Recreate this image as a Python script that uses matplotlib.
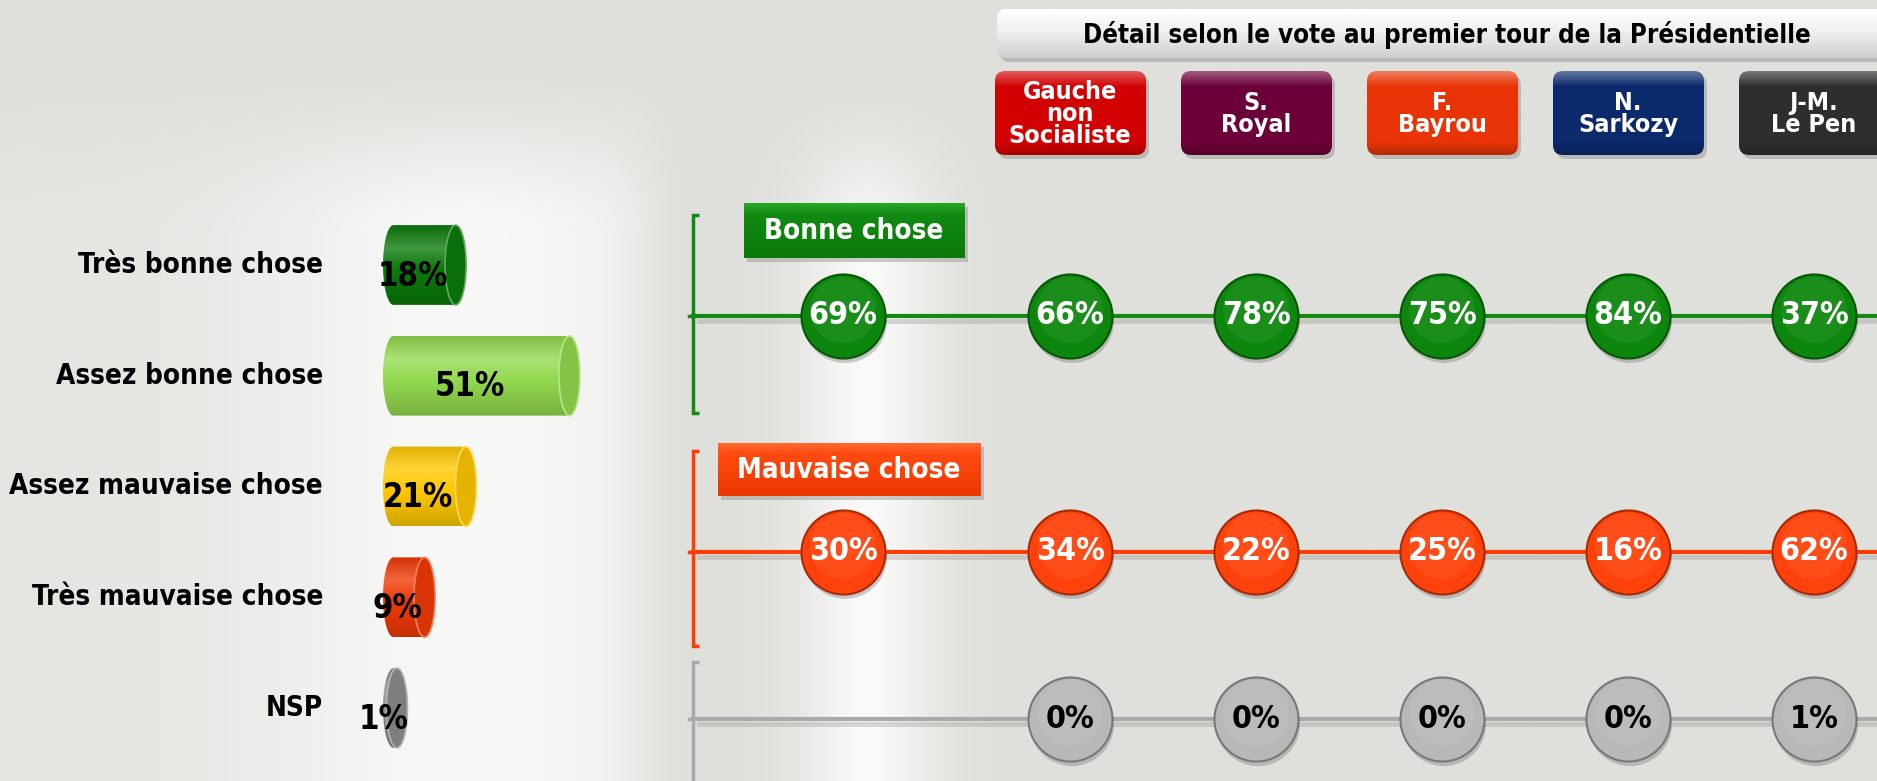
import matplotlib
matplotlib.use("Agg")
import matplotlib.pyplot as plt
from matplotlib import patches, transforms, colors
import numpy as np

# ---- data ----
answers = ["Très bonne chose", "Assez bonne chose", "Assez mauvaise chose",
           "Très mauvaise chose", "NSP"]
answer_values = [18, 51, 21, 9, 1]
answer_colors = ["#0b7a0b", "#93d94e", "#ffc800", "#f03a06", "#8c8c8c"]

title = "Détail selon le vote au premier tour de la Présidentielle"
candidates = ["Gauche\nnon\nSocialiste", "S.\nRoyal", "F.\nBayrou", "N.\nSarkozy", "J-M.\nLe Pen"]
candidate_colors = ["#d20202", "#6c0038", "#e83406", "#0b2a6c", "#2e2e2e"]

group_labels = ["Bonne chose", "Mauvaise chose"]
bonne_total = 69
bonne_detail = [66, 78, 75, 84, 37]
mauvaise_total = 30
mauvaise_detail = [34, 22, 25, 16, 62]
nsp_detail = [0, 0, 0, 0, 1]

plt.rcParams["font.family"] = ["DejaVu Sans Condensed", "DejaVu Sans"]
plt.rcParams["font.stretch"] = "condensed"
plt.rcParams["font.weight"] = "bold"

W, H = 1877, 781
fig = plt.figure(figsize=(W / 100, H / 100), dpi=100)


def smooth_step(v, a, b):
    t = np.clip((v - a) / (b - a), 0, 1)
    return t * t * (3 - 2 * t)


def lighter(c, f):
    c = np.array(colors.to_rgb(c))
    return tuple(c + (1 - c) * f)


def darker(c, f):
    c = np.array(colors.to_rgb(c))
    return tuple(c * (1 - f))


# ---- background ----
ax_bg = fig.add_axes([0, 0, 1, 1], zorder=0)
gx = np.arange(0, W, 2)[None, :]
gy = np.arange(0, H, 2)[:, None]
base = np.array([223, 224, 219]) / 255.0
left_glow = 0.62 * np.exp(-((gx - 470) / 210.0) ** 2) * (1 - smooth_step(gx, 600, 690)) \
    + 0.18 * (1 - smooth_step(gx, 620, 690))
left_glow = left_glow * smooth_step(gy, 60, 240)
band = np.exp(-((gx - 868) / 66.0) ** 2) * 0.82 * smooth_step(gy, 80, 260)
glow = np.clip(left_glow + band, 0, 1)
img = base[None, None, :] + (1 - base[None, None, :]) * glow[:, :, None]
ax_bg.imshow(img, extent=(0, W, H, 0), aspect="auto", interpolation="bilinear")
ax_bg.set_xlim(0, W)
ax_bg.set_ylim(H, 0)
ax_bg.axis("off")

# ---- pixel overlay for decorations ----
ax_px = fig.add_axes([0, 0, 1, 1], zorder=1)
ax_px.patch.set_alpha(0)


def grad_box(ax, x0, y0, w, h, stops, r, z, shadow=True):
    style = f"round,pad=0,rounding_size={r}" if r > 0 else "square,pad=0"
    if shadow:
        ax.add_patch(patches.FancyBboxPatch((x0 + 3, y0 + 4), w, h, boxstyle=style,
                                            fc="#8f8f8b", ec="none", alpha=0.45, zorder=z - 0.2))
    box = patches.FancyBboxPatch((x0, y0), w, h, boxstyle=style, fc="none", ec="none", zorder=z)
    ax.add_patch(box)
    t = np.linspace(0, 1, 64)
    pos = [p for p, _ in stops]
    g = np.stack([np.interp(t, pos, [colors.to_rgb(c)[k] for _, c in stops]) for k in range(3)], -1)
    im = ax.imshow(g[:, None, :], extent=(x0, x0 + w, y0 + h, y0), aspect="auto",
                   interpolation="bilinear", zorder=z - 0.1)
    im.set_clip_path(box)


# title banner
grad_box(ax_px, 997, 9, 910, 49,
         [(0, "#ffffff"), (0.45, "#f0f0f0"), (1, "#cfcfcf")], 9, 2)
ax_px.text(1447, 35, title, ha="center", va="center", fontsize=18.5, color="black", zorder=3)

# candidate boxes
cand_x0, cand_step = 1070, 186
for j, (name, col) in enumerate(zip(candidates, candidate_colors)):
    cx = cand_x0 + cand_step * j
    grad_box(ax_px, cx - 75, 71, 151, 84,
             [(0, lighter(col, 0.35)), (0.18, col), (0.85, col), (1, darker(col, 0.2))], 10, 2)
    ax_px.text(cx, 114, name, ha="center", va="center", fontsize=18, color="white",
               linespacing=0.88, zorder=3)

# group label boxes
grad_box(ax_px, 744, 203, 221, 55,
         [(0, "#27a827"), (0.2, "#128a12"), (1, "#0a7a0a")], 0, 2)
ax_px.text(854, 231, group_labels[0], ha="center", va="center", fontsize=20, color="white", zorder=3)
grad_box(ax_px, 718, 443, 263, 53,
         [(0, "#ff6a30"), (0.2, "#ff4a10"), (1, "#ec3800")], 0, 2)
ax_px.text(849, 470, group_labels[1], ha="center", va="center", fontsize=20, color="white", zorder=3)

# brackets and connecting lines
brackets = [("#148a14", 215, 413, 316), ("#ff3c05", 451, 646, 552), ("#a9a9a9", 662, 800, 719)]
bx = 693
for col, y0, y1, ym in brackets:
    ax_px.plot([bx + 6, bx, bx, bx + 6], [y0, y0, y1, y1], color=col, lw=2.5, zorder=2,
               solid_joinstyle="miter", solid_capstyle="butt")
    ax_px.plot([bx - 4, bx], [ym, ym], color=col, lw=2.5, zorder=2)
    ax_px.plot([bx + 6, W], [ym + 5, ym + 5], color="#a8a8a2", lw=3.5, alpha=0.45, zorder=1.5)
    ax_px.plot([bx, W], [ym, ym], color=col, lw=3, zorder=2)

ax_px.set_xlim(0, W)
ax_px.set_ylim(H, 0)
ax_px.axis("off")

# ---- left panel: cylinders ----
ax_bar = fig.add_axes([0, 0, 1, 1], zorder=2)
ax_bar.patch.set_alpha(0)
x_org, x_scale = 393.5, 3.45
y_org, y_step = 265, 110.75
xlim = (-x_org / x_scale, (W - x_org) / x_scale)
ylim = ((H - y_org) / y_step, -y_org / y_step)

bar_h = 0.72
a = 10.5 / x_scale
b = bar_h / 2
for i, (v, c) in enumerate(zip(answer_values, answer_colors)):
    # body outline: elliptic left end + elliptic right end
    t1 = np.linspace(np.pi / 2, 3 * np.pi / 2, 40)
    t2 = np.linspace(-np.pi / 2, np.pi / 2, 40)
    px = np.concatenate([a * np.cos(t1), v + a * np.cos(t2)])
    py = np.concatenate([i + b * np.sin(t1), i + b * np.sin(t2)])
    body = patches.Polygon(np.column_stack([px, py]), closed=True, fc="none", ec="none")
    ax_bar.add_patch(body)
    t = np.linspace(0, 1, 64)
    stops = [(0, darker(c, 0.12)), (0.28, lighter(c, 0.22)), (0.55, c), (1, darker(c, 0.18))]
    pos = [p for p, _ in stops]
    g = np.stack([np.interp(t, pos, [colors.to_rgb(s)[k] for _, s in stops]) for k in range(3)], -1)
    im = ax_bar.imshow(g[:, None, :], extent=(-a, v + a, i + b, i - b), aspect="auto",
                       interpolation="bilinear", zorder=2)
    im.set_clip_path(body)
    ax_bar.add_patch(patches.Ellipse((v, i), 2 * a, bar_h, fc=darker(c, 0.1),
                                     ec=lighter(c, 0.35), lw=1.2, zorder=2.2))
    ax_bar.text(v / 2 - 3.4, i + 0.1, f"{v}%", ha="center", va="center", fontsize=23.5,
                color="black", zorder=4)
    ax_bar.text(-20.4, i, answers[i], ha="right", va="center", fontsize=20, color="black", zorder=4)

ax_bar.set_xlim(*xlim)
ax_bar.set_ylim(*ylim)
ax_bar.axis("off")

# ---- right panel: circles ----
ax_dot = fig.add_axes([0, 0, 1, 1], zorder=3)
ax_dot.patch.set_alpha(0)
ax_dot.set_xlim(-cand_x0 / cand_step, (W - cand_x0) / cand_step)
ax_dot.set_ylim(*ylim)
ax_dot.axis("off")

total_col = -1.22
cols = np.arange(len(candidates))
rows = [
    ([total_col] + list(cols), [bonne_total] + bonne_detail, 0.46, "#0c860c", "white"),
    ([total_col] + list(cols), [mauvaise_total] + mauvaise_detail, 2.59, "#ff420c", "white"),
    (list(cols), nsp_detail, 4.10, "#b8b8b8", "black"),
]
size = 3660
shadow_tr = transforms.offset_copy(ax_dot.transData, fig=fig, x=2, y=-5, units="dots")
hi_tr = transforms.offset_copy(ax_dot.transData, fig=fig, x=0, y=6, units="dots")
for xcols, vals, yrow, col, tcol in rows:
    yy = [yrow] * len(xcols)
    ax_dot.scatter(xcols, yy, s=size, color="#6f6f6a", alpha=0.35, edgecolors="none",
                   transform=shadow_tr, zorder=2)
    ax_dot.scatter(xcols, yy, s=size, color=col, edgecolors=darker(col, 0.35),
                   linewidths=1.5, zorder=3)
    ax_dot.scatter(xcols, yy, s=size * 0.62, color=lighter(col, 0.2), alpha=0.3,
                   edgecolors="none", transform=hi_tr, zorder=3.1)
    for xc, v in zip(xcols, vals):
        ax_dot.text(xc, yrow, f"{v}%", ha="center", va="center", fontsize=23,
                    color=tcol, zorder=4)

fig.savefig("out.png", dpi=100)
